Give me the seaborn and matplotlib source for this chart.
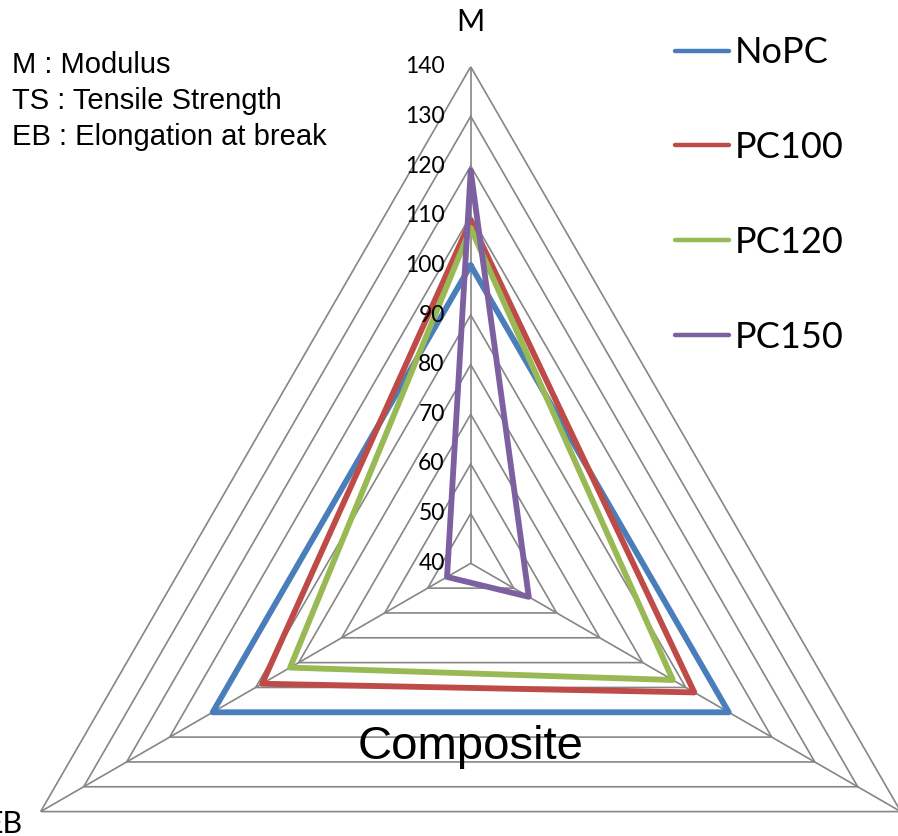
import numpy as np
import pandas as pd
import matplotlib
matplotlib.use("Agg")
import matplotlib.pyplot as plt
from matplotlib.lines import Line2D
import seaborn as sns

# radar axes (clockwise from top) and series values
axis_names = ["M", "TS", "EB"]
series_names = ["NoPC", "PC100", "PC120", "PC150"]
nopc = [100, 100, 100]
pc100 = [109, 92, 88.5]
pc120 = [107.5, 87, 82]
pc150 = [119, 53.5, 45.5]
levels = [40, 50, 60, 70, 80, 90, 100, 110, 120, 130, 140]
colors = ["#4A7EBB", "#BE4B48", "#98B954", "#7D60A0"]
grid_color = "#868686"

sns.set_theme(style="white")
plt.rcParams["font.family"] = ["Lato", "DejaVu Sans"]
plt.rcParams["text.color"] = "black"

# long table for seaborn, closing each polygon at 360 deg
theta = np.deg2rad([0, 120, 240, 360])
rows = []
for name, vals in zip(series_names, [nopc, pc100, pc120, pc150]):
    for t, v in zip(theta, vals + vals[:1]):
        rows.append({"theta": t, "value": v, "series": name})
df = pd.DataFrame(rows)

W, H = 898, 836
fig = plt.figure(figsize=(W / 100, H / 100), dpi=100)

# polar axes placed so the centre and outer ring match the picture
cx, cy, R = 470.7, 563.3, 496.6
ax = fig.add_axes([(cx - R) / W, (H - cy - R) / H, 2 * R / W, 2 * R / H],
                  projection="polar")
ax.set_theta_zero_location("N")
ax.set_theta_direction(-1)

# triangular grid and spokes
for lvl in levels[1:]:
    ax.plot(theta, [lvl] * 4, color=grid_color, lw=1.2, zorder=1)
for t in theta[:3]:
    ax.plot([t, t], [levels[0], levels[-1]], color=grid_color, lw=1.2, zorder=1)

sns.lineplot(data=df, x="theta", y="value", hue="series", hue_order=series_names,
             palette=colors, sort=False, estimator=None, lw=4.2, legend=False,
             ax=ax, zorder=3)

ax.set_ylim(levels[0], levels[-1])
ax.axis("off")

# radial tick labels along M axis
for lvl in levels:
    ax.annotate(str(lvl), xy=(0, lvl), xytext=(-26, 0), textcoords="offset pixels",
                ha="right", va="center", fontsize=16.5, color="black")

# axis names
label_offsets = {"M": (0, 45, "center"), "TS": (18, -12, "left"), "EB": (-18, -12, "right")}
for t, name in zip(theta[:3], axis_names):
    dx, dy, ha = label_offsets[name]
    ax.annotate(name, xy=(t, levels[-1]), xytext=(dx, dy), textcoords="offset pixels",
                ha=ha, va="center", fontsize=22, color="black", annotation_clip=False)

# notes at top left
notes = ["M : Modulus", "TS : Tensile Strength", "EB : Elongation at break"]
for i, line in enumerate(notes):
    fig.text(12 / W, 1 - (73 + 36 * i) / H, line, fontsize=21, va="baseline",
             family=["Liberation Sans", "DejaVu Sans"])

fig.text(471 / W, 1 - 759 / H, "Composite", fontsize=34, ha="center", va="baseline",
         family=["Liberation Sans", "DejaVu Sans"])

handles = [Line2D([0], [0], color=c, lw=3.2, solid_capstyle="round") for c in colors]
fig.legend(handles, series_names, loc="center left", bbox_to_anchor=(675 / W, 1 - 195 / H),
           frameon=False, fontsize=26, borderpad=0, borderaxespad=0, handlelength=1.5,
           handletextpad=0.15, labelspacing=1.71)

fig.savefig("out.png", dpi=100)
